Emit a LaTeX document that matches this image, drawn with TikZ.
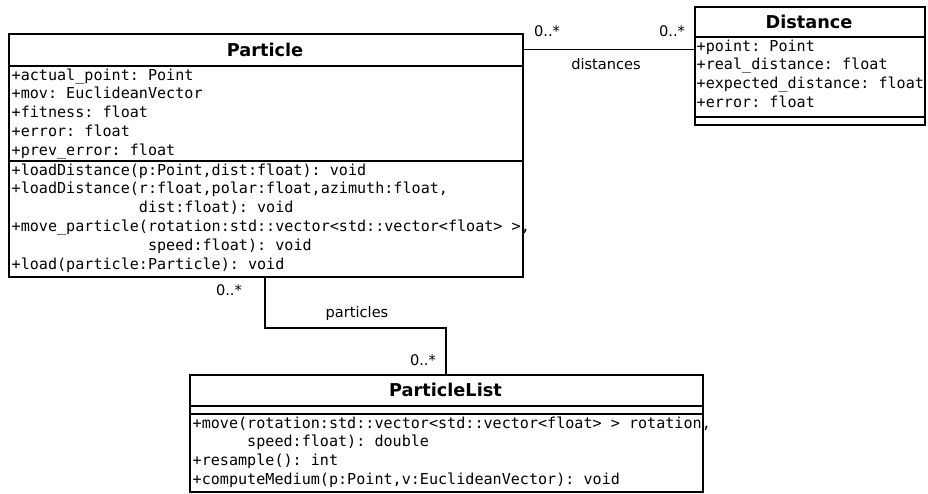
\documentclass[tikz,border=0pt]{standalone}
\usepackage{fontspec}
\setmainfont{DejaVu Sans}
\newfontfamily\membfont{DejaVu Sans Mono}
\tikzset{
  x=1pt, y=-1pt,
  umlbox/.style={draw, line width=1.8pt, inner sep=0pt, anchor=north west},
  umlrule/.style={line width=1.8pt},
  classname/.style={font=\fontsize{17.7}{20}\selectfont\bfseries, inner sep=0pt},
  member/.style={font=\membfont\fontsize{15.1}{18.8}\selectfont\frenchspacing, inner sep=0pt, anchor=base west},
  assoc/.style={line width=1.7pt},
  mult/.style={font=\fontsize{14.6}{17}\selectfont, inner sep=0pt},
}
\begin{document}
\begin{tikzpicture}
\fill[white] (0,0) rectangle (928,493);
\useasboundingbox (0,0) rectangle (928,493);

% ---- Particle: members ----
\node[member] (pa1) at (11.5,80)    {+actual\_point: Point};
\node[member] (pa2) at (11.5,98.8)  {+mov: EuclideanVector};
\node[member] (pa3) at (11.5,117.6) {+fitness: float};
\node[member] (pa4) at (11.5,136.4) {+error: float};
\node[member] (pa5) at (11.5,155.2) {+prev\_error: float};
\node[member] (pm1) at (11.5,175)   {+loadDistance(p:Point,dist:float): void};
\node[member] (pm2) at (11.5,193.8) {+loadDistance(r:float,polar:float,azimuth:float,};
\node[member] (pm3) at (11.5,212.6) {\phantom{+loadDistance(}dist:float): void};
\node[member] (pm4) at (11.5,231.4) {+move\_particle(rotation:std::vector<std::vector<float> >,};
\node[member] (pm5) at (11.5,250.2) {\phantom{+move\_particle(}speed:float): void};
\node[member] (pm6) at (11.5,269)   {+load(particle:Particle): void};

% ---- Distance: members ----
\node[member] (da1) at (696.5,51)    {+point: Point};
\node[member] (da2) at (696.5,69.8)  {+real\_distance: float};
\node[member] (da3) at (696.5,88.6)  {+expected\_distance: float};
\node[member] (da4) at (696.5,107.4) {+error: float};

% ---- ParticleList: members ----
\node[member] (lm1) at (192.5,428)   {+move(rotation:std::vector<std::vector<float> > rotation,};
\node[member] (lm2) at (192.5,446.8) {\phantom{+move(}speed:float): double};
\node[member] (lm3) at (192.5,465.6) {+resample(): int};
\node[member] (lm4) at (192.5,484.4) {+computeMedium(p:Point,v:EuclideanVector): void};

% ---- class boxes ----
\node[umlbox, minimum width=514pt, minimum height=243pt] (particle) at (8,33) {};
\node[umlbox, minimum width=230pt, minimum height=118pt] (distance) at (694,6) {};
\node[umlbox, minimum width=513pt, minimum height=117pt] (plist) at (189,374) {};

% compartment separators
\draw[umlrule] ([yshift=-33pt]particle.north west) -- ([yshift=-33pt]particle.north east);
\draw[umlrule] ([yshift=-128pt]particle.north west) -- ([yshift=-128pt]particle.north east);
\draw[umlrule] ([yshift=-31pt]distance.north west) -- ([yshift=-31pt]distance.north east);
\draw[umlrule] ([yshift=-111pt]distance.north west) -- ([yshift=-111pt]distance.north east);
\draw[umlrule] ([yshift=-32pt]plist.north west) -- ([yshift=-32pt]plist.north east);
\draw[umlrule] ([yshift=-40pt]plist.north west) -- ([yshift=-40pt]plist.north east);

% class names
\node[classname] (particleName) at (265,49.5) {Particle};
\node[classname] (distanceName) at (809,21.5) {Distance};
\node[classname] (plistName) at (445.5,390) {ParticleList};

% ---- associations ----
\draw[assoc] (particleName -| particle.east) -- (particleName -| distance.west);
\node[mult] (dm1) at (547,31) {0..*};
\node[mult] (dm2) at (672,31) {0..*};
\node[mult] (dlab) at (606,64) {distances};

\draw[assoc] ([xshift=257pt]particle.south west) |- ++(0,50) -| ([xshift=257pt]plist.north west);
\node[mult] (pm1m) at (229,290) {0..*};
\node[mult] (plab) at (357,313) {particles};
\node[mult] (pm2m) at (423,360) {0..*};
\end{tikzpicture}
\end{document}
